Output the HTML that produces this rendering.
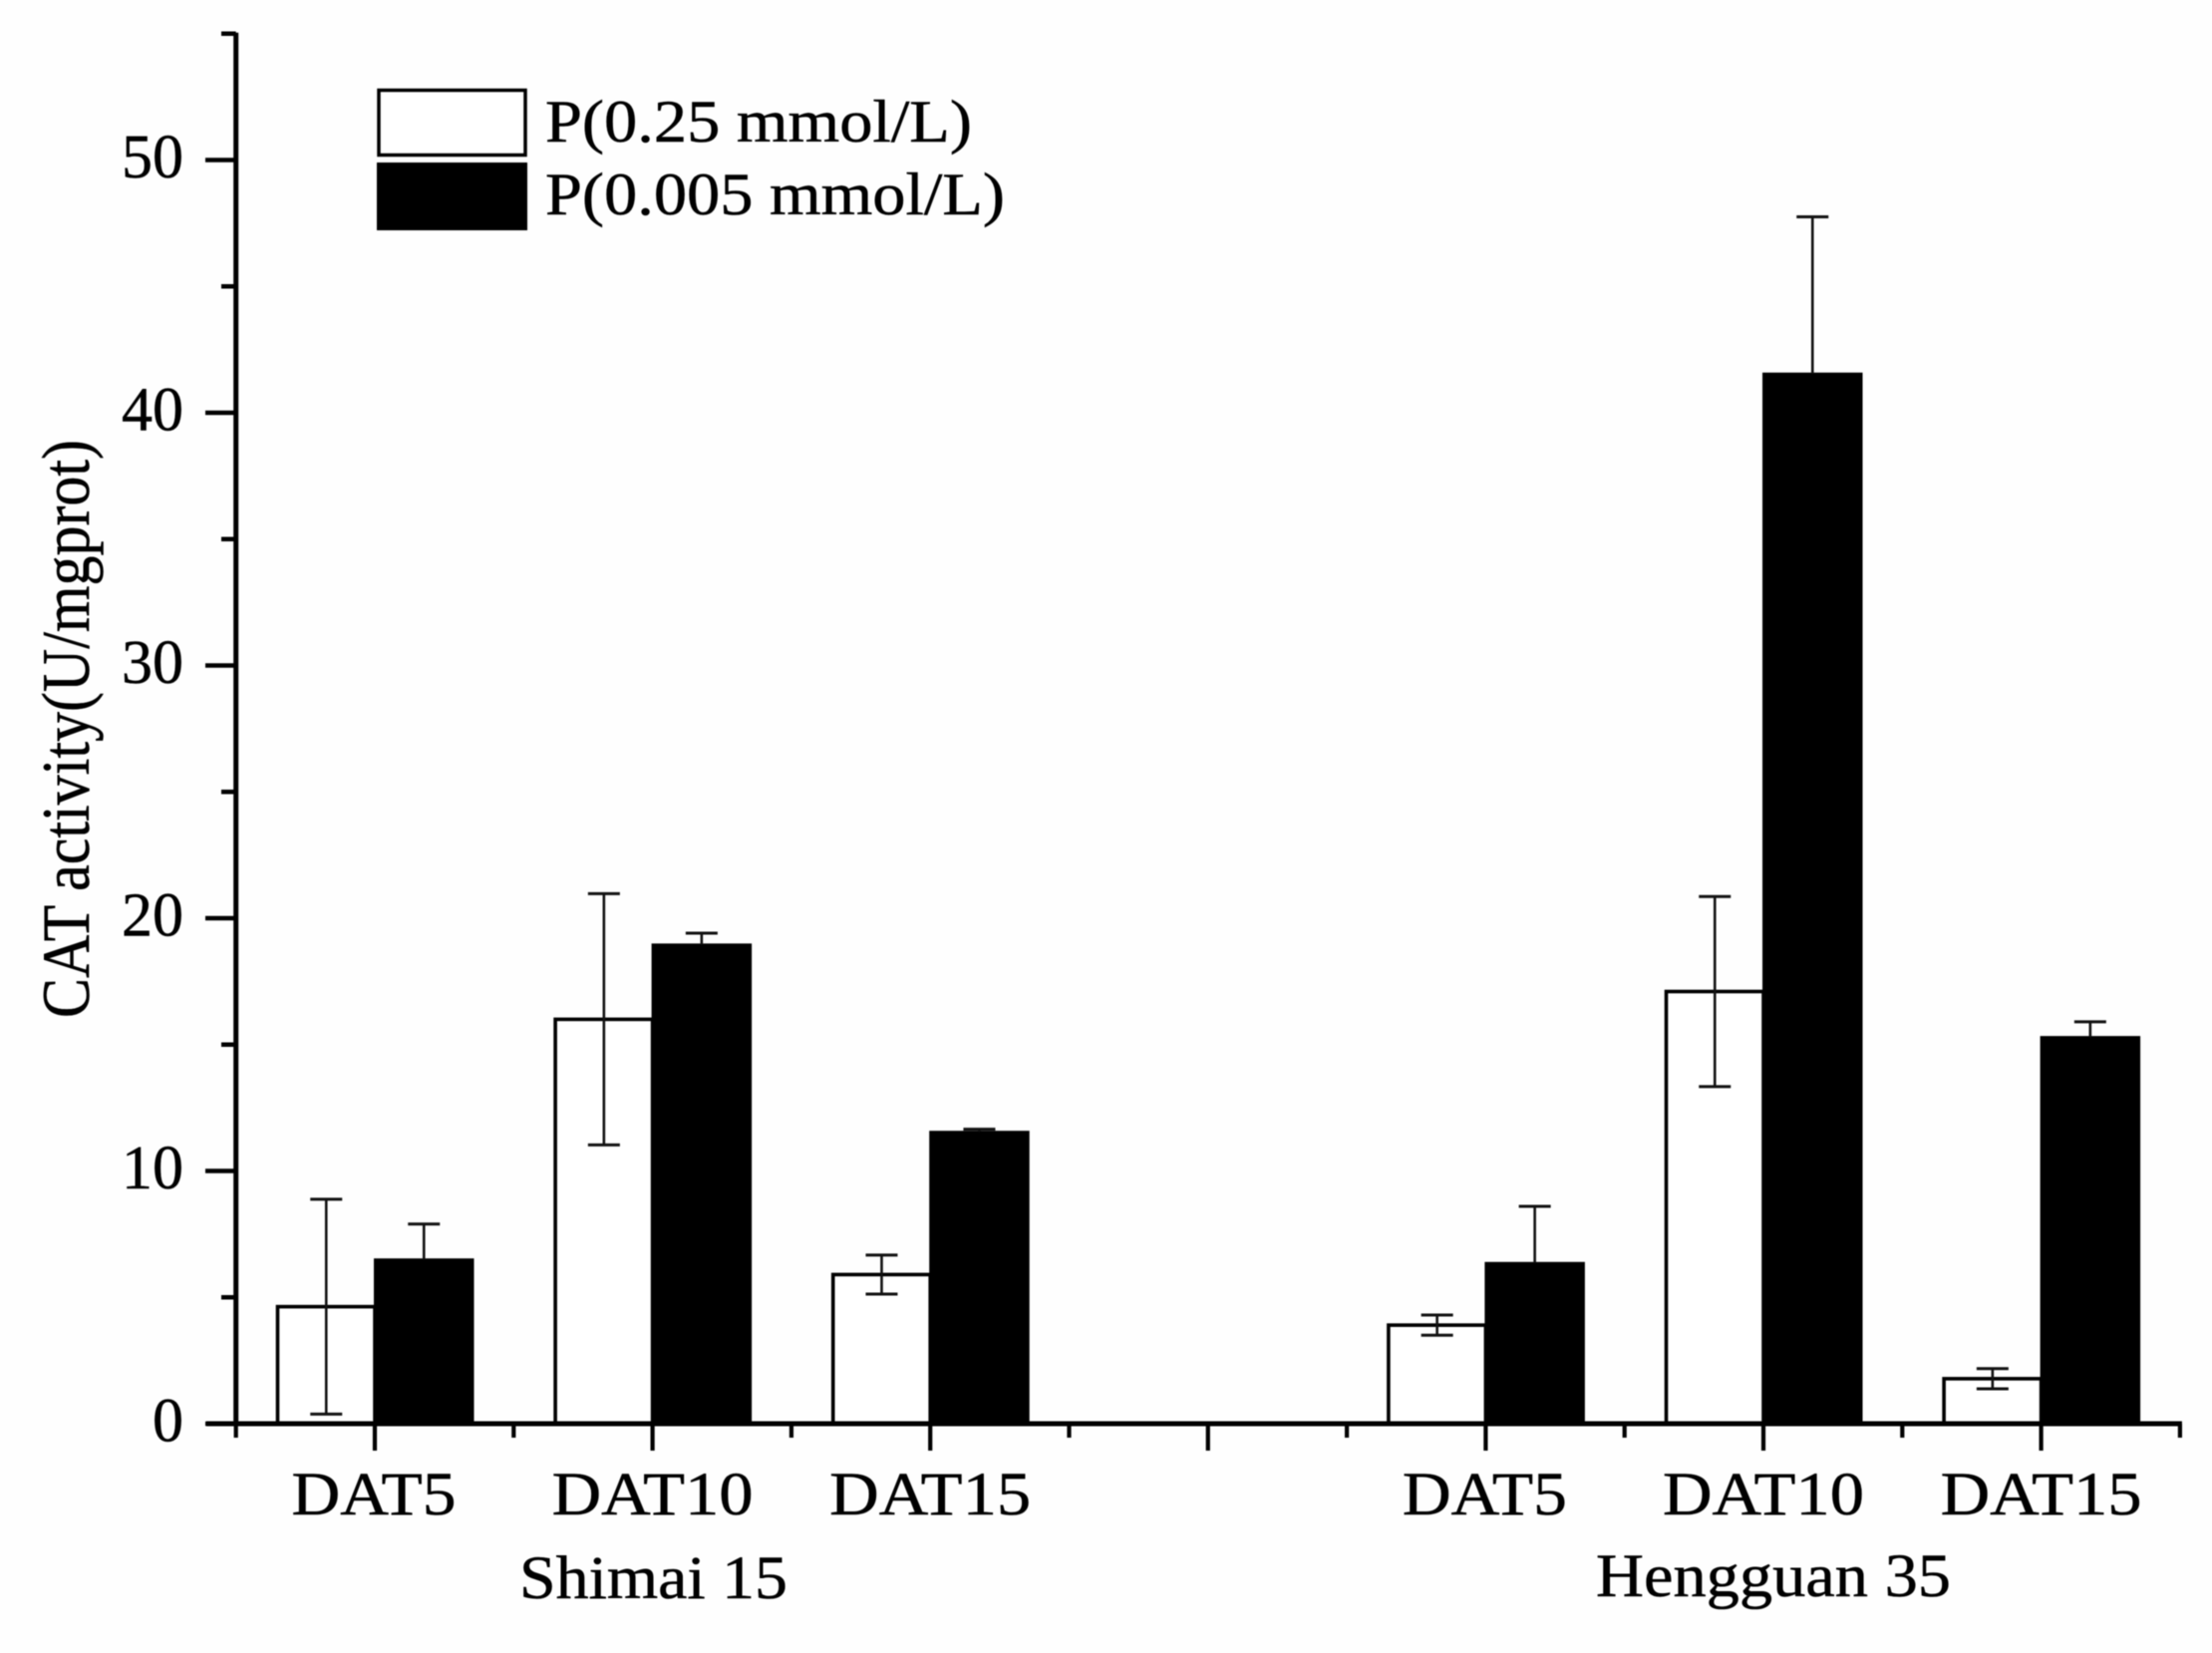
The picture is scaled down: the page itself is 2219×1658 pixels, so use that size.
<!DOCTYPE html>
<html lang="en">
<head>
<meta charset="utf-8">
<title>CAT activity chart</title>
<style>
html,body{margin:0;padding:0;background:#fefefe;width:2219px;height:1658px;overflow:hidden}
svg{display:block;filter:blur(0.6px)}
text{font-family:"Liberation Serif",serif;fill:#000;stroke:#000;stroke-width:0.5px}
</style>
</head>
<body>
<svg id="chart" width="2219" height="1658" viewBox="0 0 2219 1658" xmlns="http://www.w3.org/2000/svg">
  <rect x="-5" y="-5" width="2229" height="1668" fill="#fefefe"/>
  <g id="bars"></g>
  <g id="axes"></g>
  <text transform="translate(89 1021) rotate(-90)" font-size="68" textLength="580" lengthAdjust="spacingAndGlyphs">CAT activity(U/mgprot)</text>
  <g>
    <rect x="380" y="90.5" width="147" height="65" fill="#fff" stroke="#000" stroke-width="3.5"/>
    <text x="547" y="142" font-size="60" textLength="428" lengthAdjust="spacingAndGlyphs">P(0.25 mmol/L)</text>
    <rect x="379" y="164" width="149" height="66" fill="#000" stroke="#000" stroke-width="2"/>
    <text x="547" y="215" font-size="60" textLength="461" lengthAdjust="spacingAndGlyphs">P(0.005 mmol/L)</text>
  </g>
</svg>
<script>
const categories = ['DAT5', 'DAT10', 'DAT15'];
const groups = ['Shimai 15', 'Hengguan 35'];
const highPValues = [4.63, 16.0, 5.9, 3.9, 17.1, 1.78];
const highPErrors = [4.25, 4.97, 0.77, 0.4, 3.76, 0.4];
const lowPValues = [6.5, 18.96, 11.55, 6.36, 41.55, 15.3];
const lowPErrors = [1.4, 0.45, 0.1, 2.24, 6.2, 0.6];
const yMajorTicks = [0, 10, 20, 30, 40, 50];
const yMinorTicks = [5, 15, 25, 35, 45, 55];

const NS = 'http://www.w3.org/2000/svg';
const barsG = document.getElementById('bars');
const axesG = document.getElementById('axes');
const Y0 = 1428, Y_UNIT = 25.35, X0 = 236.7, X_STEP = 139.3, SLOTS = 14;
const BAR_W = 97.5, CAP = 16;

function yScale(v) { return Y0 - v * Y_UNIT; }
function xScale(slot) { return X0 + slot * X_STEP; }
function slotOf(groupIndex, catIndex) { return 1 + 2 * catIndex + 8 * groupIndex; }

function mk(parent, tag, props, content) {
  const el = document.createElementNS(NS, tag);
  for (const k in props) el.setAttribute(k, props[k]);
  if (content !== undefined) el.textContent = content;
  parent.appendChild(el);
  return el;
}
function line(parent, x1, y1, x2, y2, w, color) {
  return mk(parent, 'line', { x1: x1, y1: y1, x2: x2, y2: y2, stroke: color || '#000', 'stroke-width': w });
}

/* white series: bars with two-sided error bars */
highPValues.forEach(function (v, i) {
  const g = Math.floor(i / categories.length), c = i % categories.length;
  const cx = xScale(slotOf(g, c));
  const rect = mk(barsG, 'rect', { x: cx - BAR_W, y: yScale(v), width: BAR_W, height: Y0 - yScale(v), fill: '#fff', stroke: '#000', 'stroke-width': 3.6 });
  
  
  const ex = cx - BAR_W / 2;
  const hi = yScale(v + highPErrors[i]), lo = yScale(v - highPErrors[i]);
  const stem = line(barsG, ex, hi, ex, lo, 2.6, '#111');
  
  
  const capTop = line(barsG, ex - CAP, hi, ex + CAP, hi, 3, '#111');
  
  
  const capBottom = line(barsG, ex - CAP, lo, ex + CAP, lo, 3, '#111');
  
  
});

/* black series: bars with upward error bars */
lowPValues.forEach(function (v, i) {
  const g = Math.floor(i / categories.length), c = i % categories.length;
  const cx = xScale(slotOf(g, c));
  const rect = mk(barsG, 'rect', { x: cx, y: yScale(v), width: BAR_W + 1, height: Y0 - yScale(v), fill: '#000', stroke: '#000', 'stroke-width': 2 });
  
  
  const ex = cx + BAR_W / 2 + 0.5;
  const hi = yScale(v + lowPErrors[i]);
  const stem = line(barsG, ex, hi, ex, yScale(v), 2.6, '#111');
  
  
  const capTop = line(barsG, ex - CAP, hi, ex + CAP, hi, 3, '#111');
  
  
});

/* axes */
const yAxisLine = line(axesG, X0, yScale(55) - 1, X0, Y0 + 2, 5);


const xAxisLine = line(axesG, 207, Y0, xScale(SLOTS) + 2, Y0, 5);



yMajorTicks.forEach(function (t) {
  const tick = line(axesG, 206, yScale(t), X0, yScale(t), 4.5);
  
  
  const s = String(t);
  const len = s.length * 31;
  const label = mk(axesG, 'text', { x: 184 - len, y: yScale(t) + 17.5, 'font-size': 62, textLength: len, lengthAdjust: 'spacingAndGlyphs' }, s);
  
  
});
yMinorTicks.forEach(function (t) {
  const tick = line(axesG, 222, yScale(t), X0, yScale(t), 4.5);
  
  
});
for (let s = 0; s <= SLOTS; s++) {
  const major = s % 2 === 1;
  const tick = line(axesG, xScale(s), Y0, xScale(s), Y0 + (major ? 27 : 14), 4.2);
  
  
}

/* category labels */
groups.forEach(function (group, g) {
  categories.forEach(function (cat, c) {
    const len = cat.length === 4 ? 165 : 202;
    const cx = xScale(slotOf(g, c)) + (cat.length === 4 ? -1 : 0);
    const label = mk(axesG, 'text', { x: cx - len / 2, y: 1519, 'font-size': 61, textLength: len, lengthAdjust: 'spacingAndGlyphs' }, cat);
    
    
  });
});
const groupLabel0 = mk(axesG, 'text', { x: 521, y: 1603, 'font-size': 61, textLength: 269, lengthAdjust: 'spacingAndGlyphs' }, groups[0]);


const groupLabel1 = mk(axesG, 'text', { x: 1601, y: 1601, 'font-size': 61, textLength: 356, lengthAdjust: 'spacingAndGlyphs' }, groups[1]);


</script>
</body>
</html>
